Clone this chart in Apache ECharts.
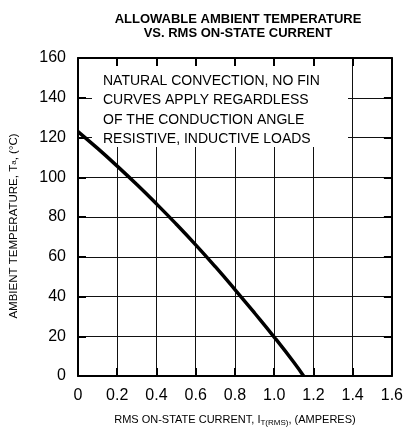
<!DOCTYPE html>
<html>
<head>
<meta charset="utf-8">
<script src="https://cdn.jsdelivr.net/npm/echarts@6/dist/echarts.min.js"></script>
<style>
  html, body { margin: 0; padding: 0; background: #fff; }
  #chart { width: 406px; height: 432px; }
</style>
</head>
<body>
<div id="chart"></div>
<script>
// curve: [current (A), temperature (°C)]
const currentA = [0, 0.1, 0.2, 0.3, 0.4, 0.5, 0.6, 0.7, 0.8, 0.9, 1.0, 1.1, 1.15];
const tempC = [123, 114.5, 105.6, 96.3, 86.6, 76.5, 66, 55, 43.5, 31.7, 19.6, 6.9, 0];
const xTicks = ['0', '0.2', '0.4', '0.6', '0.8', '1.0', '1.2', '1.4', '1.6'];
const yTicks = ['0', '20', '40', '60', '80', '100', '120', '140', '160'];
const noteLines = [
  'NATURAL CONVECTION, NO FIN',
  'CURVES APPLY REGARDLESS',
  'OF THE CONDUCTION ANGLE',
  'RESISTIVE, INDUCTIVE LOADS'
];

const font = 'Liberation Sans, Arial, sans-serif';
const chart = echarts.init(document.getElementById('chart'));

const tickStyle = { inside: true, length: 8, lineStyle: { color: '#000', width: 2 } };
const frame = { show: true, onZero: false, lineStyle: { color: '#000', width: 2 } };

const xBase = {
  type: 'value', min: 0, max: 1.6, interval: 0.2,
  axisLine: frame, axisTick: tickStyle
};
const yBase = {
  type: 'value', min: 0, max: 160, interval: 20,
  axisLine: frame, axisTick: tickStyle
};

const option = {
  animation: false,
  textStyle: { fontFamily: font },
  title: {
    text: 'ALLOWABLE AMBIENT TEMPERATURE\nVS. RMS ON-STATE CURRENT',
    left: 233, top: 7, textAlign: 'center',
    textStyle: { fontFamily: font, fontSize: 13, fontWeight: 'bold', color: '#000', lineHeight: 14 }
  },
  grid: { left: 73, right: 13, top: 58, bottom: 54 },
  xAxis: [
    Object.assign({}, xBase, {
      position: 'bottom',
      axisLabel: {
        color: '#000', fontSize: 16, margin: 12, fontFamily: font,
        formatter: v => xTicks[Math.round(v / 0.2)]
      },
      splitLine: { show: true, lineStyle: { color: '#111', width: 1 } },
      name: 'RMS ON-STATE CURRENT, I{sub|T(RMS)}, (AMPERES)',
      nameLocation: 'middle', nameGap: 37,
      nameTextStyle: {
        color: '#000', fontSize: 11, fontFamily: font,
        rich: { sub: { fontSize: 8, verticalAlign: 'bottom', padding: [6, 0, 0, 0], fontFamily: font } }
      }
    }),
    Object.assign({}, xBase, {
      position: 'top', axisLabel: { show: false }, splitLine: { show: false }
    })
  ],
  yAxis: [
    Object.assign({}, yBase, {
      position: 'left',
      axisLabel: {
        color: '#000', fontSize: 16, margin: 12, fontFamily: font,
        formatter: v => yTicks[Math.round(v / 20)]
      },
      splitLine: { show: true, lineStyle: { color: '#111', width: 1 } },
      name: 'AMBIENT TEMPERATURE, T{sub|a}, (°C)',
      nameLocation: 'middle', nameGap: 58, nameRotate: 90,
      nameTextStyle: {
        color: '#000', fontSize: 11.5, fontFamily: font, padding: [0, 18, 0, 0],
        rich: { sub: { fontSize: 8, fontFamily: font } }
      }
    }),
    Object.assign({}, yBase, {
      position: 'right', axisLabel: { show: false }, splitLine: { show: false }
    })
  ],
  graphic: [
    {
      type: 'rect', z: 1,
      shape: { x: 92, y: 66, width: 256, height: 81 },
      style: { fill: '#fff' }
    },
    {
      type: 'text', z: 2, left: 103, top: 71,
      style: {
        text: noteLines.join('\n'),
        font: '14px ' + font, fill: '#000', lineHeight: 19.5
      }
    }
  ],
  series: [{
    type: 'line',
    data: currentA.map((c, i) => [c, tempC[i]]),
    smooth: 0.5, showSymbol: false, z: 5,
    lineStyle: { color: '#000', width: 3.5 }
  }]
};

chart.setOption(option);
</script>
</body>
</html>
